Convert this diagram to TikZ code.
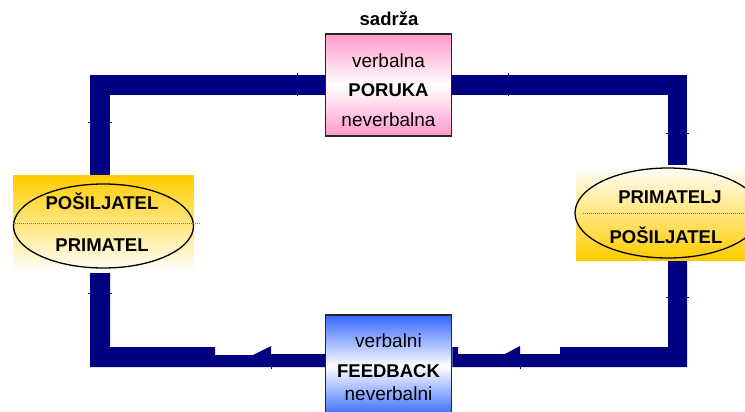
\documentclass[tikz,border=0pt]{standalone}
\usepackage{fontspec}
\setmainfont{Liberation Sans}
\usetikzlibrary{shapes.geometric}
\pgfdeclarelayer{bg}
\pgfsetlayers{bg,main}
\definecolor{bandblue}{HTML}{000080}
\definecolor{rosa}{HTML}{FF99CC}
\definecolor{plava}{HTML}{3366FF}
\definecolor{zuta}{HTML}{FFCC00}
\begin{document}
\begin{tikzpicture}[x=1pt,y=-1pt,
  band/.style={draw=bandblue, line width=19.5pt, line join=miter},
  tick/.style={draw=bandblue, line width=1pt},
  msgbox/.style={rectangle, draw=black!85, line width=1.5pt, minimum width=126pt,
    minimum height=102pt, inner sep=0pt},
  partbg/.style={rectangle, inner sep=0pt},
  partell/.style={ellipse, draw=black, line width=1.3pt, inner sep=0pt},
  divider/.style={draw=black!55, line width=0.6pt, dash pattern=on 1pt off 1pt},
  txt/.style={anchor=base, inner sep=0pt, font=\fontsize{19}{23}\selectfont},
  btxt/.style={anchor=base, inner sep=0pt, font=\fontsize{18.5}{22}\selectfont\bfseries}]
\useasboundingbox (0,0) rectangle (745,412);
\clip (0,0) rectangle (745,412);

% message box
\node[msgbox, top color=rosa, bottom color=rosa, middle color=white] (poruka) at (388.5,85) {};
\node[btxt] (sadrza) at (389,26) {sadrža};
\node[txt] (porukaA) at (388.5,67) {verbalna};
\node[btxt] (porukaB) at (388.5,97) {PORUKA};
\node[txt] (porukaC) at (388.5,126) {neverbalna};

% feedback box
\node[msgbox, top color=plava, bottom color=plava, middle color=white] (feedback) at (388.5,366) {};
\node[txt] (feedbackA) at (388.5,347) {verbalni};
\node[btxt] (feedbackB) at (388.5,377) {FEEDBACK};
\node[txt] (feedbackC) at (388.5,400) {neverbalni};

% sender
\node[partbg, minimum width=181pt, minimum height=97pt, top color=zuta, bottom color=white] (senderbg) at (103.5,223.5) {};
\node[partell, minimum width=180pt, minimum height=84pt] (sender) at (103.5,226) {};
\draw[divider] (13,223) -- (200,223);
\node[btxt] (senderA) at (102,209) {POŠILJATEL};
\node[btxt] (senderB) at (102,251) {PRIMATEL};

% receiver
\node[partbg, minimum width=186pt, minimum height=95pt, top color=white, bottom color=zuta] (receiverbg) at (669,212.5) {};
\node[partell, minimum width=186pt, minimum height=90pt] (receiver) at (668,213) {};
\draw[divider] (583,213) -- (745,213);
\node[btxt] (receiverA) at (670,203) {PRIMATELJ};
\node[btxt] (receiverB) at (666,243) {POŠILJATEL};

% communication loop
\begin{pgfonlayer}{bg}
  \coordinate (lx) at (100,0);
  \coordinate (rx) at (677.5,0);
  \draw[band] (poruka.west) -| (senderbg.north -| lx);
  \draw[band] (poruka.east) -| (receiverbg.north -| rx);
  \fill[bandblue] (feedback.west |- 0,354) -- (271,354) -- (271,346) -- (253,355)
    -- (215,355) -- (215,347) -- (110,347) -- (senderbg.south -| 110,0)
    -- (senderbg.south -| 90,0) -- (90,367) -- (feedback.west |- 0,367) -- cycle;
  \fill[bandblue] (feedback.east |- 0,347) -- (458,347) -- (458,354) -- (505,354)
    -- (520,346) -- (520,354) -- (560,354) -- (560,347) -- (668,347)
    -- (receiverbg.south -| 668,0) -- (receiverbg.south -| 687,0) -- (687,367)
    -- (feedback.east |- 0,367) -- cycle;
  % small arrow tips along the loop
  \draw[tick] (297,73) -- (297,96);
  \draw[tick] (508,73) -- (508,96);
  \draw[tick] (88,122) -- (112,122);
  \draw[tick] (88,293) -- (112,293);
  \draw[tick] (666,133) -- (689,133);
  \draw[tick] (666,297) -- (689,297);
  \draw[tick] (271,366) -- (271,369);
  \draw[tick] (520,366) -- (520,369);
\end{pgfonlayer}
\end{tikzpicture}
\end{document}
